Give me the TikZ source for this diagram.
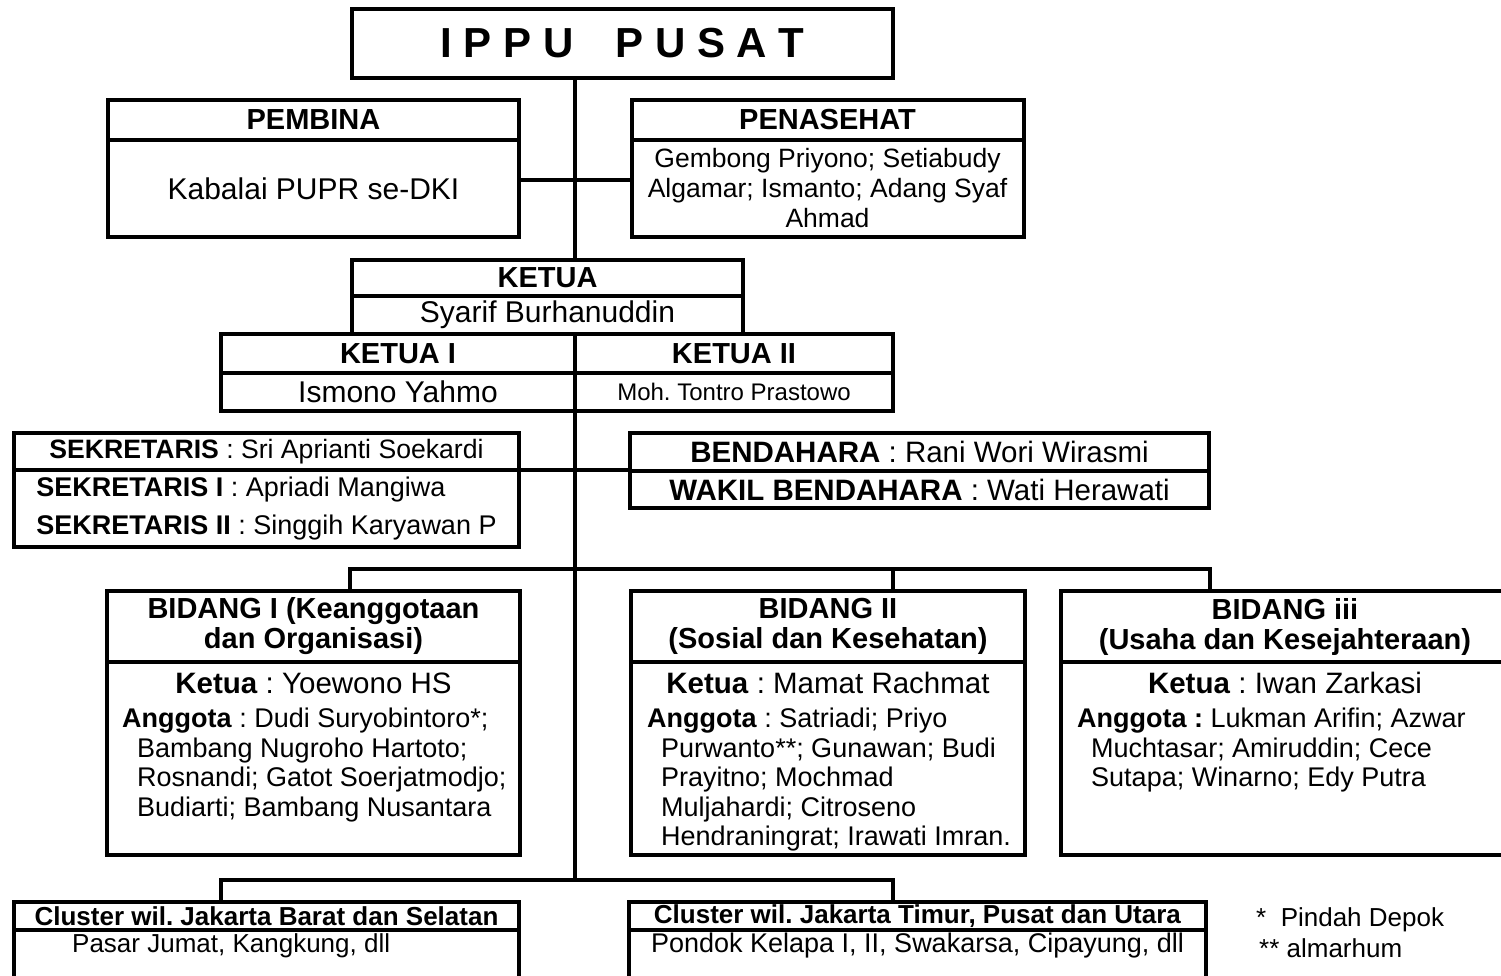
\documentclass[tikz,border=0pt]{standalone}
\usepackage{fontspec}
\setmainfont{Liberation Sans}
\usepackage{tikz}
\usetikzlibrary{positioning}
\frenchspacing

\tikzset{
  orgbox/.style={draw, fill=white, rectangle, line width=4pt, inner sep=0pt, outer sep=0pt, align=center},
  orglink/.style={line width=4pt},
  headfont/.style={font=\fontsize{29}{31}\selectfont\bfseries},
  bodyfont/.style={font=\fontsize{30}{32}\selectfont},
  bidfont/.style={font=\fontsize{29}{30}\selectfont\bfseries},
  ketuatxt/.style={font=\fontsize{29.5}{31}\selectfont},
  listtxt/.style={anchor=north west, align=left, inner sep=0pt, font=\fontsize{27}{29.5}\selectfont},
  clfont/.style={font=\fontsize{26}{28}\selectfont},
}

\begin{document}
\begin{tikzpicture}[x=1pt, y=-1pt]%
\useasboundingbox (0,0) rectangle (1501,975);%
\clip (0,0) rectangle (1501,975);%
% top
\node[orgbox, minimum width=541, minimum height=69, font=\fontsize{42}{44}\selectfont\bfseries] (ippu) at (622.5, 43.5) {I P P U\quad P U S A T};%
\node[orgbox, headfont, minimum width=411, minimum height=40] (pembinahead) at (313.5, 120) {PEMBINA};%
\node[orgbox, bodyfont, minimum width=411, minimum height=97] (pembinabody) at (313.5, 188.5) {Kabalai PUPR se-DKI};%
\node[orgbox, headfont, minimum width=392, minimum height=40] (penasehathead) at (827.5, 120) {PENASEHAT};%
\node[orgbox, minimum width=392, minimum height=97, font=\fontsize{26.5}{30}\selectfont] (penasehatbody) at (827.5, 188.5) {Gembong Priyono; Setiabudy\\Algamar; Ismanto; Adang Syaf\\Ahmad};%
% ketua
\node[orgbox, headfont, minimum width=391, minimum height=36] (ketuahead) at (547.5, 278) {KETUA};%
\node[orgbox, bodyfont, minimum width=391, minimum height=38] (ketuabody) at (547.5, 315) {Syarif Burhanuddin};%
\node[orgbox, headfont, minimum width=354, minimum height=39] (ketua1head) at (398, 353.5) {KETUA I};%
\node[orgbox, bodyfont, minimum width=354, minimum height=38] (ketua1body) at (398, 392) {Ismono Yahmo};%
\node[orgbox, headfont, minimum width=318, minimum height=39] (ketua2head) at (734, 353.5) {KETUA II};%
\node[orgbox, minimum width=318, minimum height=38, font=\fontsize{24}{26}\selectfont] (ketua2body) at (734, 392) {Moh. Tontro Prastowo};%
% sekretaris, bendahara
\node[orgbox, minimum width=505, minimum height=37, font=\fontsize{26.6}{28}\selectfont] (sekret1) at (266.5, 451.5) {\textbf{SEKRETARIS} : Sri Aprianti Soekardi};%
\node[orgbox, align=left, minimum width=505, minimum height=77, font=\fontsize{27}{38}\selectfont] (sekret2) at (266.5, 508.5) {\textbf{SEKRETARIS I} : Apriadi Mangiwa\\\textbf{SEKRETARIS II} : Singgih Karyawan P};%
\node[orgbox, minimum width=579, minimum height=38, font=\fontsize{29.5}{31}\selectfont] (benda1) at (919.5, 452) {\textbf{BENDAHARA} : Rani Wori Wirasmi};%
\node[orgbox, minimum width=579, minimum height=37, font=\fontsize{29.5}{31}\selectfont] (benda2) at (919.5, 489.5) {\textbf{WAKIL BENDAHARA} : Wati Herawati};%
% bidang
\node[orgbox, bidfont, minimum width=413, minimum height=71] (bid1head) at (313.5, 626.5) {BIDANG I (Keanggotaan\\dan Organisasi)};%
\node[orgbox, minimum width=413, minimum height=193] (bid1body) at (313.5, 758.5) {};%
\node[ketuatxt] (bid1ketua) at (313.5, 683) {\textbf{Ketua} : Yoewono HS};%
\node[listtxt] (bid1anggota) at (122, 708) {\textbf{Anggota} : Dudi Suryobintoro*;\\\hspace*{15pt}Bambang Nugroho Hartoto;\\\hspace*{15pt}Rosnandi; Gatot Soerjatmodjo;\\\hspace*{15pt}Budiarti; Bambang Nusantara};%
\node[orgbox, bidfont, minimum width=394, minimum height=71] (bid2head) at (828, 626.5) {BIDANG II\\(Sosial dan Kesehatan)};%
\node[orgbox, minimum width=394, minimum height=193] (bid2body) at (828, 758.5) {};%
\node[ketuatxt] (bid2ketua) at (828, 683) {\textbf{Ketua} : Mamat Rachmat};%
\node[listtxt] (bid2anggota) at (647, 708) {\textbf{Anggota} : Satriadi; Priyo\\\hspace*{14pt}Purwanto**; Gunawan; Budi\\\hspace*{14pt}Prayitno; Mochmad\\\hspace*{14pt}Muljahardi; Citroseno\\\hspace*{14pt}Hendraningrat; Irawati Imran.};%
\node[orgbox, bidfont, minimum width=448, minimum height=71] (bid3head) at (1285, 626.5) {BIDANG iii\\(Usaha dan Kesejahteraan)};%
\node[orgbox, minimum width=448, minimum height=193] (bid3body) at (1285, 758.5) {};%
\node[ketuatxt] (bid3ketua) at (1285, 683) {\textbf{Ketua} : Iwan Zarkasi};%
\node[listtxt] (bid3anggota) at (1077, 708) {\textbf{Anggota :} Lukman Arifin; Azwar\\\hspace*{14pt}Muchtasar; Amiruddin; Cece\\\hspace*{14pt}Sutapa; Winarno; Edy Putra};%
% cluster
\node[orgbox, clfont, minimum width=505, minimum height=28] (cl1head) at (266.5, 916) {\textbf{Cluster wil. Jakarta Barat dan Selatan}};%
\node[orgbox, minimum width=505, minimum height=55] (cl1body) at (266.5, 957.5) {};%
\node[clfont, anchor=west, inner sep=0pt] (cl1txt) at (72, 946) {Pasar Jumat, Kangkung, dll};%
\node[orgbox, clfont, minimum width=577, minimum height=28] (cl2head) at (917.5, 916) {\textbf{Cluster wil. Jakarta Timur, Pusat dan Utara}};%
\node[orgbox, minimum width=577, minimum height=55] (cl2body) at (917.5, 957.5) {};%
\node[font=\fontsize{27}{29}\selectfont] (cl2txt) at (917.5, 946) {Pondok Kelapa I, II, Swakarsa, Cipayung, dll};%
\node[clfont, anchor=west, inner sep=0pt] (note1) at (1256, 920) {*\ \ Pindah Depok};%
\node[clfont, anchor=west, inner sep=0pt] (note2) at (1259, 948) {** almarhum};%
% connectors
\coordinate (busL) at (350, 569);%
\coordinate (busM) at (893, 569);%
\coordinate (busR) at (1210, 569);%
\coordinate (bus2L) at (221, 880);%
\coordinate (bus2R) at (893, 880);%
\coordinate (trunkend) at (575, 880);%
\draw[orglink] (ippu.south -| trunkend) -- (ketuahead.north -| trunkend);%
\draw[orglink] (ketua1body.south east) -- (trunkend);%
\draw[orglink] ([yshift=9pt]pembinabody.east) -- ([yshift=9pt]penasehatbody.west);%
\draw[orglink] (sekret1.south east) -- (sekret1.south east -| benda1.west);%
\draw[orglink] (bid1head.north -| busL) -- (busL) -- (busR) -- (bid3head.north -| busR);%
\draw[orglink] (busM) -- (bid2head.north -| busM);%
\draw[orglink] (cl1head.north -| bus2L) -- (bus2L) -- (bus2R) -- (cl2head.north -| bus2R);%
\end{tikzpicture}
\end{document}
